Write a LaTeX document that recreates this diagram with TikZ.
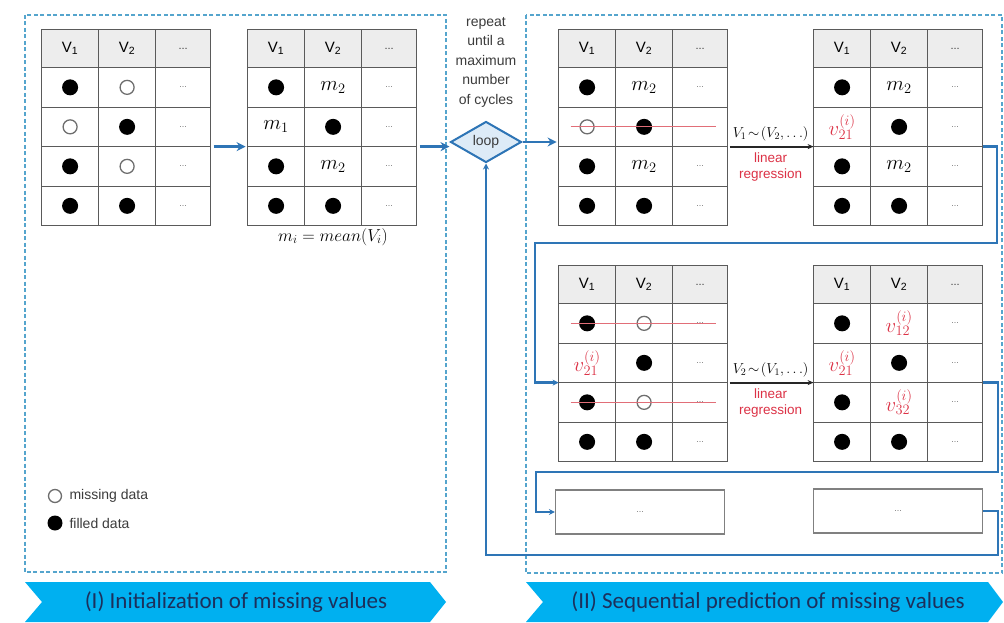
\documentclass[tikz,border=0pt]{standalone}
\usepackage{fontspec}
\setmainfont{Liberation Sans}
\newfontfamily\banfont{Carlito}
\usetikzlibrary{matrix,shapes.geometric,arrows.meta}
\definecolor{bluec}{RGB}{46,117,182}
\definecolor{dashc}{RGB}{85,165,205}
\definecolor{bannerc}{RGB}{0,176,240}
\definecolor{bannertext}{RGB}{28,48,92}
\definecolor{hdrgray}{RGB}{237,237,237}
\definecolor{tgrid}{RGB}{90,90,90}
\definecolor{redc}{RGB}{220,50,70}
\definecolor{strikec}{RGB}{225,110,120}
\definecolor{dfill}{RGB}{221,235,247}
\definecolor{cellgray}{RGB}{120,120,120}
\definecolor{odgray}{RGB}{110,110,110}
\definecolor{txtgray}{RGB}{60,60,60}
\newcommand\dd{\textcolor{cellgray}{\fontsize{9}{9}\selectfont ...}}
\newcommand\hd{\textcolor{txtgray}{\fontsize{11}{11}\selectfont ...}}
\newcommand\vv[1]{{\fontsize{20}{24}\selectfont\textcolor{redc}{$v^{(i)}_{#1}$}}}
\newcommand\mm[1]{{\fontsize{20}{24}\selectfont$m_{#1}$}}
\tikzset{
  tbl/.style={matrix of nodes, nodes in empty cells, inner sep=0pt, outer sep=0pt,
    column sep=-1.2pt, row sep=-1.2pt,
    nodes={draw=tgrid, line width=1.2pt, minimum height=39.5pt, inner sep=0pt,
      anchor=center, font=\fontsize{15}{18}\selectfont},
    column 1/.style={nodes={minimum width=57pt}},
    column 2/.style={nodes={minimum width=57pt}},
    column 3/.style={nodes={minimum width=55pt}},
    row 1/.style={nodes={fill=hdrgray, minimum height=38pt}}},
  fd/.style={path picture={\fill[black] (path picture bounding box.center) circle[radius=8pt];}},
  od/.style={path picture={\draw[odgray, line width=1.3pt] (path picture bounding box.center) circle[radius=7pt];}},
  lfd/.style={circle, fill=black, minimum size=15pt, inner sep=0pt},
  lod/.style={circle, draw=odgray, line width=1.3pt, minimum size=13pt, inner sep=0pt},
  dashbox/.style={draw=dashc, line width=1.3pt, dash pattern=on 4pt off 2.5pt},
  barrow/.style={draw=bluec, line width=2.6pt, -{Stealth[length=9pt,width=9pt]}},
  bline/.style={draw=bluec, line width=2.4pt, -{Stealth[length=6pt,width=6pt]}},
  karrow/.style={draw=black!85, line width=2pt, -{Stealth[length=6pt,width=5pt]}},
  strike/.style={draw=strikec, line width=0.8pt},
  ebox/.style={draw=gray, line width=1.2pt, minimum width=169pt, minimum height=44pt, inner sep=0pt},
  loopd/.style={diamond, aspect=1.73, draw=bluec, fill=dfill, line width=2pt,
    minimum width=71pt, minimum height=41pt, inner sep=0pt, font=\fontsize{14}{14}\selectfont, text=txtgray},
  bannertxt/.style={font=\banfont\fontsize{23}{26}\selectfont, text=bannertext},
  smalltxt/.style={font=\fontsize{14}{14}\selectfont, text=txtgray}
}
\begin{document}
\begin{tikzpicture}[x=1pt,y=-1pt]
\useasboundingbox[fill=white] (0,0) rectangle (1004,623);
% dashed boxes
\draw[dashbox] (25,15) rectangle (446,572);
\draw[dashbox] (526,15) rectangle (1002,573);
% banners
\fill[bannerc] (25,582) -- (430,582) -- (446,602) -- (430,622) -- (25,622) -- (42,602) -- cycle;
\fill[bannerc] (526,582) -- (988,582) -- (1003,602) -- (988,622) -- (526,622) -- (543,602) -- cycle;
\node[bannertxt] (bn1) at (236,602) {(I) Initialization of missing values};
\node[bannertxt] (bn2) at (768,602) {(II) Sequential prediction of missing values};

% table 1
\matrix (t1) [tbl, anchor=north west] at (41,29) {
 V\textsubscript{1} & V\textsubscript{2} & \hd \\
 |[fd]| & |[od]| & \dd \\
 |[od]| & |[fd]| & \dd \\
 |[fd]| & |[od]| & \dd \\
 |[fd]| & |[fd]| & \dd \\
};
% table 2
\matrix (t2) [tbl, anchor=north west] at (247,29) {
 V\textsubscript{1} & V\textsubscript{2} & \hd \\
 |[fd]| & \mm2 & \dd \\
 \mm1 & |[fd]| & \dd \\
 |[fd]| & \mm2 & \dd \\
 |[fd]| & |[fd]| & \dd \\
};
\node[font=\fontsize{18}{18}\selectfont] (cap) at (333,237) {$m_i = mean(V_i)$};
% table 3
\matrix (t3) [tbl, anchor=north west] at (558,29) {
 V\textsubscript{1} & V\textsubscript{2} & \hd \\
 |[fd]| & \mm2 & \dd \\
 |[od]| & |[fd]| & \dd \\
 |[fd]| & \mm2 & \dd \\
 |[fd]| & |[fd]| & \dd \\
};
% table 4
\matrix (t4) [tbl, anchor=north west] at (813,29) {
 V\textsubscript{1} & V\textsubscript{2} & \hd \\
 |[fd]| & \mm2 & \dd \\
 \vv{21} & |[fd]| & \dd \\
 |[fd]| & \mm2 & \dd \\
 |[fd]| & |[fd]| & \dd \\
};
% table 5
\matrix (t5) [tbl, anchor=north west] at (558,265) {
 V\textsubscript{1} & V\textsubscript{2} & \hd \\
 |[fd]| & |[od]| & \dd \\
 \vv{21} & |[fd]| & \dd \\
 |[fd]| & |[od]| & \dd \\
 |[fd]| & |[fd]| & \dd \\
};
% table 6
\matrix (t6) [tbl, anchor=north west] at (813,265) {
 V\textsubscript{1} & V\textsubscript{2} & \hd \\
 |[fd]| & \vv{12} & \dd \\
 \vv{21} & |[fd]| & \dd \\
 |[fd]| & \vv{32} & \dd \\
 |[fd]| & |[fd]| & \dd \\
};
% strike lines
\draw[strike] ([xshift=12pt]t3-3-1.west) -- ([xshift=-12pt]t3-3-3.east);
\draw[strike] ([xshift=12pt]t5-2-1.west) -- ([xshift=-12pt]t5-2-3.east);
\draw[strike] ([xshift=12pt]t5-4-1.west) -- ([xshift=-12pt]t5-4-3.east);

% empty boxes
\node[ebox] (b7) at (640,512) {\dd};
\node[ebox] (b8) at (898,511) {\dd};

% loop
\node[loopd] (loop) at (486,142) {loop};
\node[align=center, font=\fontsize{14}{19.5}\selectfont, text=txtgray] (rep) at (486,62)
  {repeat\\until a\\maximum\\number\\of cycles};

% legend
\node[lod] (lgm) at (55,496) {};
\node[anchor=west, smalltxt] (lgmt) at (66,496) {missing data};
\node[lfd] (lgf) at (55,523) {};
\node[anchor=west, smalltxt] (lgft) at (66,523) {filled data};

% blue arrows
\draw[barrow, shorten <=3pt, shorten >=2pt] (t1-3-3.south east) -- (t2-3-1.south west);
\draw[barrow, shorten <=3pt] (t2-3-3.south east) -- (t2-3-3.south east -| loop.west);
\draw[barrow, shorten >=2pt] (loop.east) -- (loop.east -| t3-3-1.south west);

% regression arrows
\draw[karrow, shorten <=2pt] (t3-3-3.south east) --
  node[above=1pt, font=\fontsize{14.4}{14.4}\selectfont] (f1) {$V_1\!\sim\!(V_2,\ldots)$}
  node[below=2pt, align=center, text=redc, font=\fontsize{13.5}{16}\selectfont] (r1) {linear\\regression}
  (t4-3-1.south west);
\draw[karrow, shorten <=2pt] (t5-3-3.south east) --
  node[above=1pt, font=\fontsize{14.4}{14.4}\selectfont] (f2) {$V_2\!\sim\!(V_1,\ldots)$}
  node[below=2pt, align=center, text=redc, font=\fontsize{13.5}{16}\selectfont] (r2) {linear\\regression}
  (t6-3-1.south west);

% blue connectors
\coordinate (c1) at (997,243);
\coordinate (c2) at (535,243);
\draw[bline] (t4-3-3.south east) -| (c1) -- (c2) |- (t5-3-1.south west);
\coordinate (c3) at (998,472);
\coordinate (c4) at (536,472);
\draw[bline] (t6-3-3.south east) -| (c3) -- (c4) |- (b7.west);
\coordinate (c5) at (998,555);
\draw[bline] (b8.east) -| (c5) -| (loop.south);
\end{tikzpicture}
\end{document}
